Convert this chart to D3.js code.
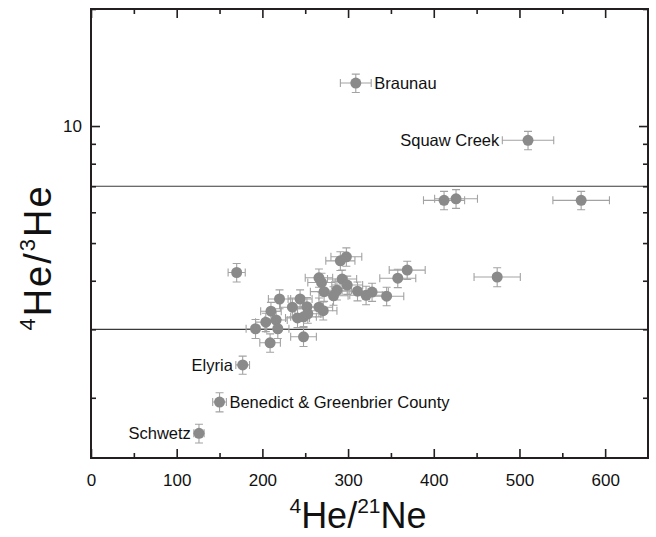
<!DOCTYPE html>
<html>
<head>
<meta charset="utf-8">
<script src="https://cdn.jsdelivr.net/npm/d3@7.9.0/dist/d3.min.js"></script>
<style>
  body { margin: 0; background: #fff; }
  svg { display: block; font-family: Arial, "Liberation Sans", sans-serif; }
</style>
</head>
<body>
<svg id="chart" width="656" height="537"></svg>
<script>
// 4He/21Ne (x) and 4He/3He (y) with their errors
const heNe = [309, 510, 412, 426, 572, 474, 369, 358, 345, 170,
  298, 291, 266, 269, 293, 299, 287, 272, 283, 311,
  321, 328, 220, 244, 235, 252, 266, 271, 210, 216,
  204, 241, 248, 253, 192, 218, 248, 209, 177, 150, 126];
const heNeErr = [18, 30, 24, 25, 33, 27, 21, 21, 20, 10,
  18, 17, 16, 16, 17, 18, 17, 16, 17, 18,
  19, 19, 13, 14, 14, 15, 16, 16, 12, 13,
  12, 14, 15, 15, 11, 13, 15, 12, 8, 8, 6];
const he4he3 = [12.9, 9.19, 6.44, 6.50, 6.44, 4.09, 4.26, 4.06, 3.65, 4.20,
  4.61, 4.50, 4.07, 3.96, 4.04, 3.90, 3.78, 3.75, 3.66, 3.76,
  3.67, 3.74, 3.59, 3.59, 3.42, 3.43, 3.42, 3.35, 3.34, 3.17,
  3.13, 3.21, 3.23, 3.29, 3.01, 3.01, 2.87, 2.77, 2.43, 1.95, 1.62];
const he4he3Err = [0.7, 0.5, 0.35, 0.36, 0.35, 0.23, 0.23, 0.22, 0.2, 0.23,
  0.25, 0.25, 0.22, 0.22, 0.22, 0.21, 0.21, 0.21, 0.2, 0.21,
  0.2, 0.2, 0.2, 0.2, 0.19, 0.19, 0.19, 0.18, 0.18, 0.17,
  0.17, 0.18, 0.18, 0.18, 0.17, 0.17, 0.16, 0.15, 0.13, 0.11, 0.09];

const siteNames = ['Braunau', 'Squaw Creek', 'Elyria', 'Benedict & Greenbrier County', 'Schwetz'];
const siteIndex = [0, 1, 38, 39, 40];
const siteSide = ['right', 'left', 'left', 'right', 'left'];

const refLines = [7, 3];
const xTicks = [0, 100, 200, 300, 400, 500, 600];
const xMinor = [50, 150, 250, 350, 450, 550];
const yTicks = [2, 3, 4, 5, 6, 7, 8, 9, 10, 20];
const yLabelled = [10];

const W = 656, H = 537;
const margin = { top: 9, right: 8, bottom: 79, left: 91 };
const iw = W - margin.left - margin.right;
const ih = H - margin.top - margin.bottom;

const svg = d3.select('#chart');
const g = svg.append('g').attr('transform', `translate(${margin.left},${margin.top})`);

const x = d3.scaleLinear().domain([0, 650]).range([0, iw]);
const y = d3.scaleLog().domain([1.4, 20]).range([ih, 0]);

const frameColor = '#231f20';

// reference lines
g.selectAll('line.ref').data(refLines).join('line')
  .attr('class', 'ref')
  .attr('x1', 0).attr('x2', iw)
  .attr('y1', d => y(d)).attr('y2', d => y(d))
  .attr('stroke', '#3a3a3a').attr('stroke-width', 1.2);

// axes, ticks pointing inward
const yMinor = yTicks.filter(v => !yLabelled.includes(v));

const axB = g.append('g').attr('transform', `translate(0,${ih})`)
  .call(d3.axisBottom(x).tickValues(xTicks).tickSizeInner(-9).tickSizeOuter(0).tickPadding(16));
axB.append('g').call(d3.axisBottom(x).tickValues(xMinor).tickSizeInner(-5).tickSizeOuter(0).tickFormat(''));

const axT = g.append('g')
  .call(d3.axisTop(x).tickValues(xTicks).tickSizeInner(-9).tickSizeOuter(0).tickFormat(''));
axT.append('g').call(d3.axisTop(x).tickValues(xMinor).tickSizeInner(-5).tickSizeOuter(0).tickFormat(''));

const axL = g.append('g')
  .call(d3.axisLeft(y).tickValues(yLabelled).tickSizeInner(-9).tickSizeOuter(0).tickPadding(9).tickFormat(d3.format('d')));
axL.append('g').call(d3.axisLeft(y).tickValues(yMinor).tickSizeInner(-5).tickSizeOuter(0).tickFormat(''));

const axR = g.append('g').attr('transform', `translate(${iw},0)`)
  .call(d3.axisRight(y).tickValues(yLabelled).tickSizeInner(-9).tickSizeOuter(0).tickFormat(''));
axR.append('g').call(d3.axisRight(y).tickValues(yMinor).tickSizeInner(-5).tickSizeOuter(0).tickFormat(''));

[axB, axT, axL, axR].forEach(a => {
  a.selectAll('.domain').remove();
  a.selectAll('line').attr('stroke', frameColor).attr('stroke-width', 1.6);
  a.selectAll('text').attr('fill', '#111').attr('font-size', 17)
    .attr('font-family', 'Arial, "Liberation Sans", sans-serif');
});

// frame
g.append('rect').attr('width', iw).attr('height', ih)
  .attr('fill', 'none').attr('stroke', frameColor).attr('stroke-width', 2);

// error bars + points
const pts = heNe.map((v, i) => ({ x: v, xe: heNeErr[i], y: he4he3[i], ye: he4he3Err[i] }));
const errColor = '#a3a3a3';
const cap = 4;
const eb = g.append('g').attr('stroke', errColor).attr('stroke-width', 1.1).attr('fill', 'none');
pts.forEach(p => {
  const cx = x(p.x), cy = y(p.y);
  const x0 = x(p.x - p.xe), x1 = x(p.x + p.xe);
  const y0 = y(p.y - p.ye), y1 = y(p.y + p.ye);
  eb.append('path').attr('d',
    `M${x0},${cy}H${x1}M${x0},${cy - cap}V${cy + cap}M${x1},${cy - cap}V${cy + cap}` +
    `M${cx},${y0}V${y1}M${cx - cap},${y0}H${cx + cap}M${cx - cap},${y1}H${cx + cap}`);
});
g.append('g').selectAll('circle').data(pts).join('circle')
  .attr('cx', d => x(d.x)).attr('cy', d => y(d.y)).attr('r', 5.5)
  .attr('fill', '#8a8a8a');

// site labels, placed just beyond the x error bar
siteNames.forEach((name, k) => {
  const p = pts[siteIndex[k]];
  const isRight = siteSide[k] === 'right';
  const tx = isRight ? x(p.x + p.xe) + 3 : x(p.x - p.xe) - 3;
  g.append('text')
    .attr('x', tx).attr('y', y(p.y) + 6)
    .attr('text-anchor', isRight ? 'start' : 'end')
    .attr('font-size', 16.5).attr('fill', '#111')
    .text(name);
});

// axis titles
const xt = svg.append('text')
  .attr('x', 358).attr('y', 528)
  .attr('text-anchor', 'middle').attr('font-size', 36).attr('fill', '#111');
xt.append('tspan').attr('font-size', 21).attr('dy', -15).text('4');
xt.append('tspan').attr('dy', 15).text('He/');
xt.append('tspan').attr('font-size', 21).attr('dy', -15).text('21');
xt.append('tspan').attr('dy', 15).text('Ne');

const yt = svg.append('text')
  .attr('transform', `translate(51,${margin.top + ih / 2 + 24}) rotate(-90)`)
  .attr('text-anchor', 'middle').attr('font-size', 38).attr('letter-spacing', 2).attr('fill', '#111');
yt.append('tspan').attr('font-size', 22).attr('dy', -16).text('4');
yt.append('tspan').attr('dy', 16).text('He/');
yt.append('tspan').attr('font-size', 22).attr('dy', -16).text('3');
yt.append('tspan').attr('dy', 16).text('He');
</script>
</body>
</html>
